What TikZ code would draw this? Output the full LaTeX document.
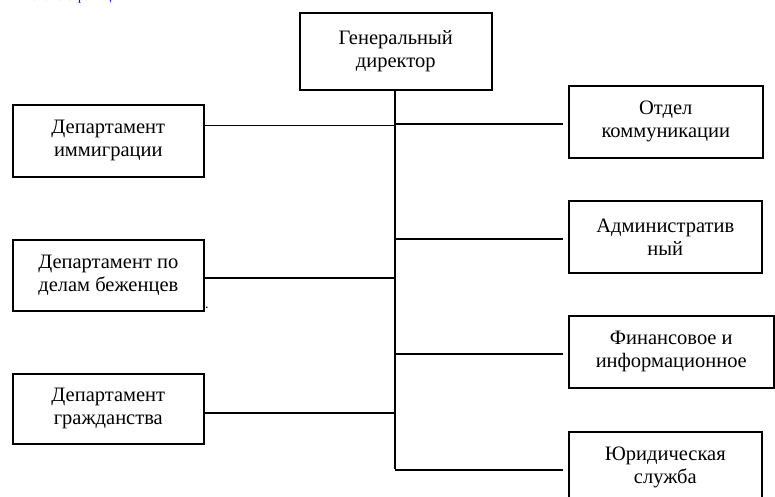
\documentclass[tikz,border=0pt]{standalone}
\usepackage{fontspec}
\setmainfont{Liberation Serif}
\usetikzlibrary{calc}
\begin{document}
\begin{tikzpicture}[x=1pt,y=-1pt,
  box/.style={draw, line width=1.6pt, rectangle, anchor=north west, align=center, inner sep=0pt,
    font=\fontsize{20.5}{23}\selectfont},
  conn/.style={line width=1.5pt}]
\useasboundingbox (0,0) rectangle (775,497);
\fill[white] (0,0) rectangle (775,497);
\node[anchor=base west, text=blue, font=\fontsize{13}{15}\selectfont, inner sep=0pt] (link) at (23,1) {Начало страницы};
% boxes
\node[box, minimum width=192pt, minimum height=77pt] (gd) at (299,12) {Генеральный\\директор};
\node[box, minimum width=191pt, minimum height=72pt] (l1) at (12,104) {Департамент\\иммиграции};
\node[box, minimum width=191pt, minimum height=71pt] (l2) at (12,239) {Департамент по\\делам беженцев};
\node[box, minimum width=191pt, minimum height=70pt] (l3) at (12,373) {Департамент\\гражданства};
\node[box, minimum width=194pt, minimum height=72pt] (r1) at (568,85) {Отдел\\коммуникации};
\node[box, minimum width=193pt, minimum height=72pt] (r2) at (568,200) {Административ\\ный};
\node[box, minimum width=205pt, minimum height=72pt] (r3) at (568,315) {Финансовое и\\информационное};
\node[box, minimum width=193pt, minimum height=72pt] (r4) at (568,431) {Юридическая\\служба};
\node[anchor=base west, inner sep=0pt, font=\fontsize{14}{16}\selectfont] (dot) at (205,308) {.};
% trunk
\coordinate (tb) at (395,469);
\draw[conn] (gd.south -| tb) -- (tb);
% left connectors
\coordinate (a1) at ($(l1.north east)!0.29!(l1.south east)$);
\coordinate (a2) at ($(l2.north east)!0.535!(l2.south east)$);
\coordinate (a3) at ($(l3.north east)!0.56!(l3.south east)$);
\draw[conn] (a1) -- (a1 -| tb);
\draw[conn] (a2) -- (a2 -| tb);
\draw[conn] (a3) -- (a3 -| tb);
% right connectors
\foreach \r in {r1,r2,r3,r4}{
  \coordinate (b\r) at ($(\r.north west)!0.53!(\r.south west)+(-5,0)$);
  \draw[conn] (b\r -| tb) -- (b\r);
}
\end{tikzpicture}
\end{document}
